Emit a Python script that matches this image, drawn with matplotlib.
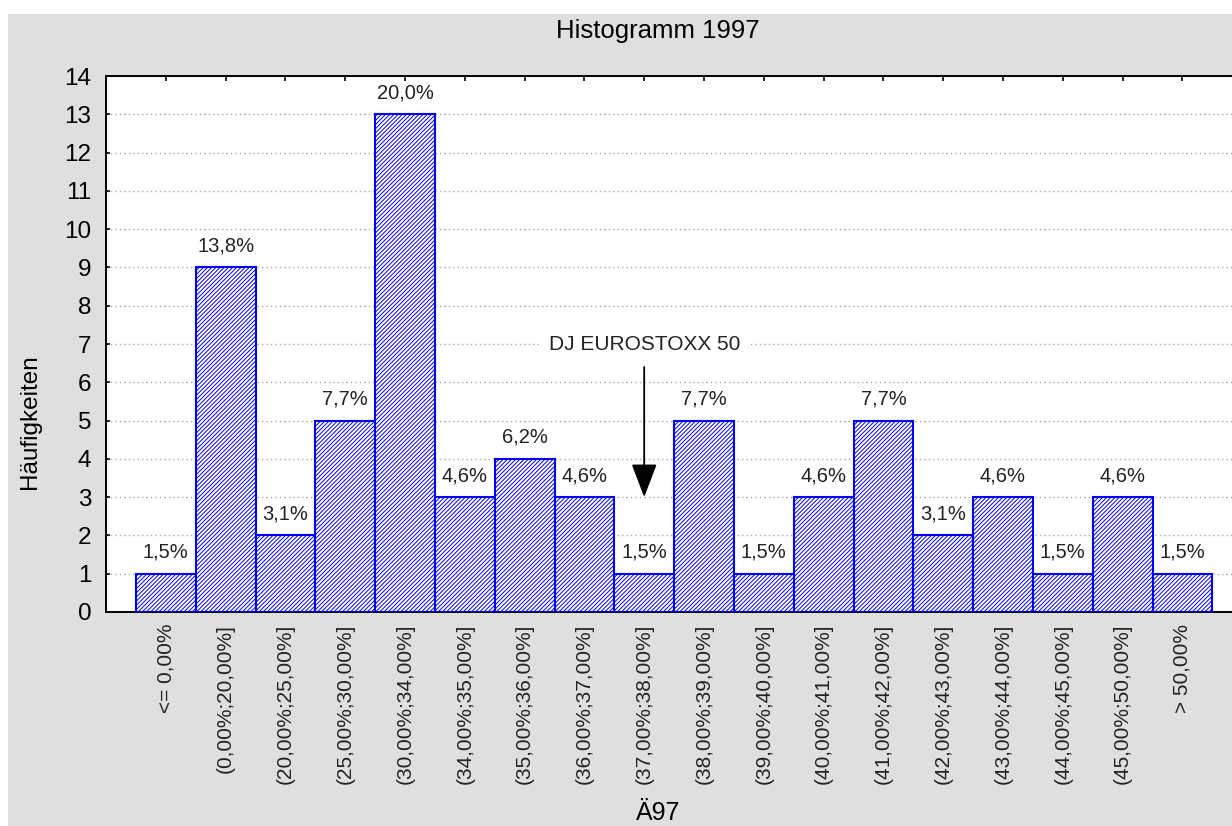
import numpy as np
import matplotlib
matplotlib.use("Agg")
import matplotlib.pyplot as plt
from matplotlib.patches import Rectangle

# ------------------ Data ------------------
categories = [
    "<= 0,00%", "(0,00%;20,00%]", "(20,00%;25,00%]", "(25,00%;30,00%]",
    "(30,00%;34,00%]", "(34,00%;35,00%]", "(35,00%;36,00%]", "(36,00%;37,00%]",
    "(37,00%;38,00%]", "(38,00%;39,00%]", "(39,00%;40,00%]", "(40,00%;41,00%]",
    "(41,00%;42,00%]", "(42,00%;43,00%]", "(43,00%;44,00%]", "(44,00%;45,00%]",
    "(45,00%;50,00%]", "> 50,00%",
]
counts = [1, 9, 2, 5, 13, 3, 4, 3, 1, 5, 1, 3, 5, 2, 3, 1, 3, 1]
pct_labels = [
    "1,5%", "13,8%", "3,1%", "7,7%", "20,0%", "4,6%", "6,2%", "4,6%", "1,5%",
    "7,7%", "1,5%", "4,6%", "7,7%", "3,1%", "4,6%", "1,5%", "4,6%", "1,5%",
]
y_ticks = list(range(0, 15))

# annotation: marker category index, text height, arrow start / end
marker_idx = 8
marker_text = "DJ EUROSTOXX 50"
marker_text_y = 7
arrow_from_y = 6.4
arrow_to_y = 3.0

# ------------------ Style ------------------
W, H = 1232, 826
BG = "#dfdfdf"
BLUE = "#0000ff"
plt.rcParams["font.family"] = ["Liberation Sans", "DejaVu Sans"]
plt.rcParams["hatch.color"] = BLUE
plt.rcParams["hatch.linewidth"] = 0.7

fig = plt.figure(figsize=(W / 100, H / 100), dpi=100)
fig.patch.set_facecolor("white")
# gray panel (white strip on top and left)
fig.patches.append(Rectangle((8 / W, 0), 1, 1 - 14 / H, transform=fig.transFigure,
                             facecolor=BG, edgecolor="none", zorder=-10))

# axes placement in pixels
left_px, top_px, bottom_px = 106, 76, 612
bar_px = 59.8
x = np.arange(len(categories))
xlim = (-1, len(categories))
ax_w = (xlim[1] - xlim[0]) * bar_px
ax = fig.add_axes([left_px / W, (H - bottom_px) / H, ax_w / W, (bottom_px - top_px) / H])
ax.set_facecolor("white")

# ------------------ Bars ------------------
ax.bar(x, counts, width=1.0, facecolor="white", edgecolor=BLUE,
       linewidth=1.5, hatch="////////", zorder=3)

for xi, c, lab in zip(x, counts, pct_labels):
    ax.annotate(lab, xy=(xi, c), xytext=(0, 11.5), textcoords="offset points",
                ha="center", va="baseline", fontsize=14.5, color="#222222", zorder=4)

# ------------------ Axes ------------------
ax.set_xlim(*xlim)
ax.set_ylim(0, 14)
ax.set_yticks(y_ticks)
ax.set_xticks(x)
ax.set_xticklabels(categories, rotation=90, ha="center", va="top",
                   fontsize=15, color="#222222")
ax.tick_params(axis="x", direction="in", length=3.8, width=1.2, top=True, pad=8.5)
ax.tick_params(axis="y", direction="in", length=3.2, width=1.2, labelsize=17.5, pad=10.5)
for s in ax.spines.values():
    s.set_linewidth(1.4)
    s.set_color("black")

ax.yaxis.grid(True, linestyle=(0, (1, 2.2)), color="#a8a8a8", linewidth=1.0, zorder=0)
ax.set_axisbelow(True)

# ------------------ Marker annotation ------------------
ax.text(marker_idx, marker_text_y, marker_text, ha="center", va="center",
        fontsize=15, color="#222222", zorder=5,
        bbox=dict(boxstyle="square,pad=0.45", facecolor="white", edgecolor="none"))
ax.annotate("", xy=(marker_idx, arrow_to_y), xytext=(marker_idx, arrow_from_y),
            arrowprops=dict(arrowstyle="-|>,head_length=1.05,head_width=0.4",
                            mutation_scale=20, color="black", lw=1.3,
                            shrinkA=0, shrinkB=0), zorder=5)

# ------------------ Titles ------------------
fig.text(658 / W, 1 - 31 / H, "Histogramm 1997", ha="center", va="center",
         fontsize=18.5, color="black")
fig.text(30 / W, 1 - 422 / H, "Häufigkeiten", ha="center", va="center",
         rotation=90, fontsize=17.5, color="black")
fig.text(658 / W, 0.5 / H, "Ä97", ha="center", va="bottom",
         fontsize=18, color="black")

fig.savefig("out.png", dpi=100, facecolor=fig.get_facecolor())
